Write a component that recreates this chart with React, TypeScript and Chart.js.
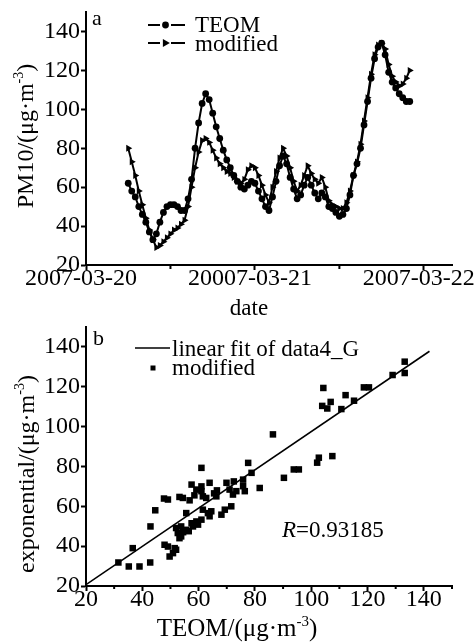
import React, { useEffect, useRef } from "react";
import { Chart, registerables } from "chart.js";
Chart.register(...registerables);

const FONT = '"Liberation Serif", "Times New Roman", Times, serif';

// ---------- panel (a): time series ----------
const hours = [
  6, 6.5, 7, 7.5, 8, 8.5, 9, 9.5, 10, 10.5, 11, 11.5, 12, 12.5, 13, 13.5, 14, 14.5, 15, 15.5,
  16, 16.5, 17, 17.5, 18, 18.5, 19, 19.5, 20, 20.5, 21, 21.5, 22, 22.5, 23, 23.5, 24, 24.5, 25,
  25.5, 26, 26.5, 27, 27.5, 28, 28.5, 29, 29.5, 30, 30.5, 31, 31.5, 32, 32.5, 33, 33.5, 34, 34.5,
  35, 35.5, 36, 36.5, 37, 37.5, 38, 38.5, 39, 39.5, 40, 40.5, 41, 41.5, 42, 42.5, 43, 43.5, 44,
  44.5, 45, 45.5, 46,
];
const teom = [
  62, 58, 55, 50, 46, 42, 37, 33, 36, 42, 47, 50, 51, 51, 50, 48, 48, 54, 64, 80, 93, 103, 108,
  105, 98, 91, 85, 79, 74,
  70, 66, 63, 60, 59, 61, 63, 62, 58, 54, 50, 48, 55, 63, 71, 76, 72, 65, 59, 54, 56, 61, 65, 61,
  57, 54, 57, 55, 50, 49, 47, 45, 46, 49, 56, 66, 72, 80, 92, 104, 116, 126, 132, 134, 128, 119,
  114, 111, 108, 106, 104, 104,
];
const modified = [
  80, 73, 66, 58, 51, 44, 38, 33, 29, 30, 32, 34, 36, 38, 39, 41, 43, 50, 60, 70, 78, 84, 85, 83,
  79, 75, 72, 70, 68,
  67, 65, 63, 62, 64, 69, 71, 70, 66, 61, 56, 52, 60, 68, 75, 80, 76, 70, 63, 58, 61, 66, 71, 67,
  64, 62, 65, 60, 53, 51, 50, 49, 49, 52, 58, 66, 73, 82, 94, 106, 118, 128, 133, 134, 131, 123,
  117, 114, 112, 113, 116, 120,
];
const dateTickHours = [0, 24, 48];
const dateTickLabels = ["2007-03-20", "20007-03-21", "2007-03-22"];
const dateMinorHours = [12, 36];
const pmTicks = [20, 40, 60, 80, 100, 120, 140];

// ---------- panel (b): scatter ----------
const scatterTeom = [
  31.5, 35.2, 39.0, 42.8, 36.6, 42.9, 44.6, 47.7, 49.1, 53.2, 54.4, 56.8, 57.5, 61.0, 63.9, 61.0,
  61.0, 61.5, 62.7, 59.2, 66.3, 69.9, 71.0, 72.2, 73.4, 75.8, 76.4, 75.8, 77.6, 78.8, 81.7, 55.6,
  61.5, 63.3, 63.9, 59.2, 61.0, 58.0, 59.8, 55.6, 53.8, 52.0, 52.6, 53.8, 53.2, 68.1, 69.3, 71.6,
  47.9, 49.1, 51.5, 52.0, 49.7, 50.9,
  133.2, 133.2, 128.9, 118.7, 120.5, 112.2, 115.2, 104.3, 106.9, 103.9, 105.7, 110.7, 86.4, 107.5,
  102.7, 102.1, 93.8, 95.6, 90.3,
  56.5, 57.5, 54.5, 64.5, 66.5, 72.5, 58.5, 65.5,
];
const scatterModified = [
  31.8, 29.8, 29.8, 31.8, 39.0, 49.9, 58.0, 63.9, 63.4, 64.7, 64.2, 63.0, 70.9, 79.3, 71.8, 70.0,
  67.6, 65.0, 64.2, 68.4, 65.0, 71.8, 68.4, 65.9, 67.6, 70.1, 67.6, 73.4, 81.8, 76.8, 69.2, 56.6,
  58.3, 56.6, 55.0, 52.4, 53.3, 49.9, 50.8, 48.2, 49.9, 49.1, 46.6, 44.9, 44.0, 55.8, 58.3, 60.0,
  40.7, 39.8, 39.0, 38.2, 34.8, 36.5,
  132.6, 126.9, 125.9, 119.7, 119.7, 115.8, 113.0, 119.4, 112.4, 110.4, 109.1, 108.8, 96.1, 85.2,
  84.4, 81.9, 78.5, 78.5, 74.3,
  47.5, 51.5, 47.0, 57.5, 68.0, 72.5, 65.5, 66.5,
];
const fitRange = [20, 142];
const fitIntercept = 1.5;
const fitSlope = 0.96;
const rText = "=0.93185";
const teomTicks = [20, 40, 60, 80, 100, 120, 140];
const teomMinor = [30, 50, 70, 90, 110, 130, 150];

type Run = { t: string; sup?: boolean; it?: boolean };

function drawRuns(
  ctx: CanvasRenderingContext2D,
  runs: Run[],
  x: number,
  y: number,
  size: number,
  align: "left" | "center",
  rotate = false
) {
  ctx.save();
  ctx.translate(x, y);
  if (rotate) ctx.rotate(-Math.PI / 2);
  const fontFor = (r: Run) =>
    `${r.it ? "italic " : ""}${r.sup ? Math.round(size * 0.6) : size}px ${FONT}`;
  let total = 0;
  for (const r of runs) {
    ctx.font = fontFor(r);
    total += ctx.measureText(r.t).width;
  }
  let cx = align === "center" ? -total / 2 : 0;
  ctx.fillStyle = "#000";
  ctx.textAlign = "left";
  ctx.textBaseline = "alphabetic";
  for (const r of runs) {
    ctx.font = fontFor(r);
    ctx.fillText(r.t, cx, r.sup ? -size * 0.42 : 0);
    cx += ctx.measureText(r.t).width;
  }
  ctx.restore();
}

const unitRuns = (prefix: string): Run[] => [
  { t: prefix + "/(\u03bcg\u00b7m" },
  { t: "-3", sup: true },
  { t: ")" },
];

function axis(
  min: number,
  max: number,
  step: number,
  size: "w" | "h",
  cb: (v: number) => string,
  labelOffset = 0
) {
  return {
    type: "linear" as const,
    min,
    max,
    afterFit: (s: any) => {
      if (size === "w") s.width = 86;
      else s.height = 56;
      s.paddingLeft = 0;
      s.paddingRight = 0;
      s.paddingTop = 0;
      s.paddingBottom = 0;
    },
    border: { display: true, color: "#000", width: 2 },
    grid: {
      display: true,
      drawOnChartArea: false,
      drawTicks: true,
      tickLength: 5,
      tickWidth: 2,
      tickColor: "#000",
    },
    ticks: {
      stepSize: step,
      includeBounds: false,
      autoSkip: false,
      maxRotation: 0,
      minRotation: 0,
      color: "#000",
      padding: size === "h" ? -6 : 1,
      labelOffset,
      font: { family: FONT, size: 24 },
      callback: (v: any) => cb(Number(v)),
    },
  };
}

function drawTriangle(ctx: CanvasRenderingContext2D, x: number, y: number, r: number) {
  ctx.beginPath();
  ctx.moveTo(x + r, y);
  ctx.lineTo(x - r * 0.6, y - r * 0.9);
  ctx.lineTo(x - r * 0.6, y + r * 0.9);
  ctx.closePath();
  ctx.fill();
}

const topDecor = {
  id: "topDecor",
  afterDraw(chart: any) {
    const ctx: CanvasRenderingContext2D = chart.ctx;
    const xs = chart.scales.x;
    const ys = chart.scales.y;
    ctx.save();
    ctx.strokeStyle = "#000";
    ctx.fillStyle = "#000";
    ctx.lineWidth = 2;
    for (const h of dateMinorHours) {
      const px = xs.getPixelForValue(h);
      ctx.beginPath();
      ctx.moveTo(px, ys.bottom);
      ctx.lineTo(px, ys.bottom + 4);
      ctx.stroke();
    }
    // legend
    ctx.lineWidth = 1.8;
    const rows = [25, 43];
    rows.forEach((ly, i) => {
      ctx.beginPath();
      ctx.moveTo(148, ly);
      ctx.lineTo(160, ly);
      ctx.moveTo(171, ly);
      ctx.lineTo(185, ly);
      ctx.stroke();
      if (i === 0) {
        ctx.beginPath();
        ctx.arc(165.5, ly, 3.4, 0, Math.PI * 2);
        ctx.fill();
      } else drawTriangle(ctx, 165.5, ly, 4.4);
    });
    ctx.restore();
    drawRuns(ctx, [{ t: "TEOM" }], 195, 32, 23, "left");
    drawRuns(ctx, [{ t: "modified" }], 195, 51, 23, "left");
    drawRuns(ctx, [{ t: "a" }], 92, 25, 22, "left");
    drawRuns(ctx, [{ t: "date" }], 249, 315, 23, "center");
    drawRuns(ctx, unitRuns("PM10"), 33, 136, 24, "center", true);
  },
};

const botDecor = {
  id: "botDecor",
  afterDraw(chart: any) {
    const ctx: CanvasRenderingContext2D = chart.ctx;
    const xs = chart.scales.x;
    const ys = chart.scales.y;
    ctx.save();
    ctx.strokeStyle = "#000";
    ctx.fillStyle = "#000";
    ctx.lineWidth = 2;
    for (const v of teomMinor) {
      const px = xs.getPixelForValue(v);
      ctx.beginPath();
      ctx.moveTo(px, ys.bottom);
      ctx.lineTo(px, ys.bottom + 3);
      ctx.stroke();
    }
    ctx.lineWidth = 1.6;
    ctx.beginPath();
    ctx.moveTo(135, 27);
    ctx.lineTo(170, 27);
    ctx.stroke();
    ctx.fillRect(150.5, 44.5, 5, 5);
    ctx.restore();
    drawRuns(ctx, [{ t: "linear fit of data4_G" }], 172, 35, 23, "left");
    drawRuns(ctx, [{ t: "modified" }], 172, 54, 23, "left");
    drawRuns(ctx, [{ t: "b" }], 93, 24, 22, "left");
    drawRuns(ctx, [{ t: "R", it: true }, { t: rText }], 282, 216, 23, "left");
    drawRuns(ctx, unitRuns("TEOM"), 237, 315, 25, "center");
    drawRuns(ctx, unitRuns("exponential"), 34, 153, 24, "center", true);
  },
};

function topConfig(): any {
  return {
    type: "line",
    data: {
      datasets: [
        {
          label: "TEOM",
          data: hours.map((h, i) => ({ x: h, y: teom[i] })),
          borderColor: "#000",
          backgroundColor: "#000",
          borderWidth: 2,
          pointStyle: "circle",
          pointRadius: 3.4,
          pointBorderWidth: 0,
          tension: 0,
        },
        {
          label: "modified",
          data: hours.map((h, i) => ({ x: h, y: modified[i] })),
          borderColor: "#000",
          backgroundColor: "#000",
          borderWidth: 2,
          pointStyle: "triangle",
          pointRotation: 90,
          pointRadius: 4,
          pointBorderWidth: 0,
          tension: 0,
        },
      ],
    },
    options: {
      animation: false,
      responsive: false,
      maintainAspectRatio: false,
      layout: { padding: { top: 12, right: 24, left: 0, bottom: 0 } },
      plugins: { legend: { display: false }, tooltip: { enabled: false } },
      scales: {
        x: axis(
          0,
          52,
          24,
          "h",
          (v) => {
            const i = dateTickHours.indexOf(v);
            return i >= 0 ? dateTickLabels[i] : "";
          },
          -5
        ),
        y: axis(20, 150, 20, "w", (v) => (pmTicks.includes(v) ? String(v) : "")),
      },
    },
    plugins: [topDecor],
  };
}

function botConfig(): any {
  return {
    type: "scatter",
    data: {
      datasets: [
        {
          label: "linear fit of data4_G",
          type: "line",
          data: fitRange.map((x) => ({ x, y: fitIntercept + fitSlope * x })),
          borderColor: "#000",
          borderWidth: 1.6,
          pointRadius: 0,
          showLine: true,
          order: 0,
        },
        {
          label: "modified",
          data: scatterTeom.map((x, i) => ({ x, y: scatterModified[i] })),
          backgroundColor: "#000",
          borderColor: "#000",
          pointStyle: "rect",
          pointRadius: 4.6,
          pointBorderWidth: 0,
          order: 1,
        },
      ],
    },
    options: {
      animation: false,
      responsive: false,
      maintainAspectRatio: false,
      layout: { padding: { top: 6, right: 24, left: 0, bottom: 0 } },
      plugins: { legend: { display: false }, tooltip: { enabled: false } },
      scales: {
        x: axis(20, 150, 20, "h", (v) => (teomTicks.includes(v) ? String(v) : "")),
        y: axis(20, 150, 20, "w", (v) => (teomTicks.includes(v) ? String(v) : "")),
      },
    },
    plugins: [botDecor],
  };
}

export default function App() {
  const topRef = useRef<HTMLCanvasElement>(null);
  const botRef = useRef<HTMLCanvasElement>(null);
  useEffect(() => {
    const c1 = new Chart(topRef.current as HTMLCanvasElement, topConfig());
    const c2 = new Chart(botRef.current as HTMLCanvasElement, botConfig());
    return () => {
      c1.destroy();
      c2.destroy();
    };
  }, []);
  return (
    <div style={{ position: "absolute", left: 0, top: 0, width: 476, height: 642, background: "#fff" }}>
      <canvas
        ref={topRef}
        width={476}
        height={321}
        style={{ position: "absolute", left: 0, top: 0, width: 476, height: 321 }}
      />
      <canvas
        ref={botRef}
        width={476}
        height={321}
        style={{ position: "absolute", left: 0, top: 321, width: 476, height: 321 }}
      />
    </div>
  );
}
